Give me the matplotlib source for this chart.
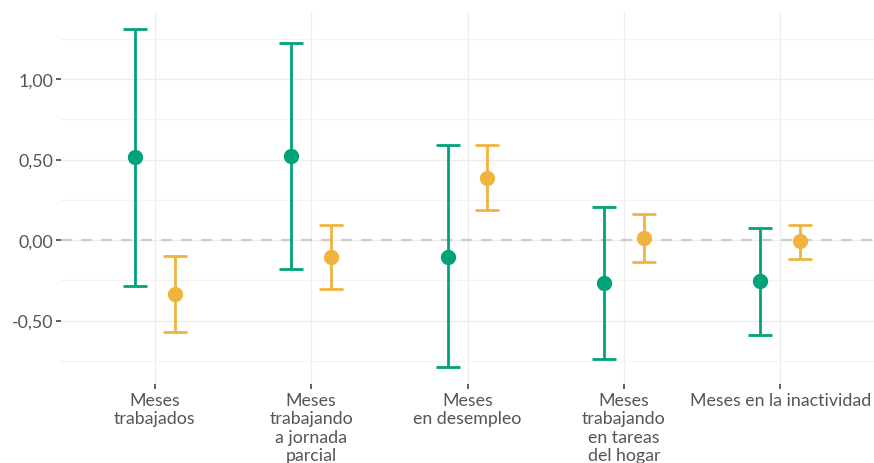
import numpy as np
import matplotlib
matplotlib.use('Agg')
import matplotlib.pyplot as plt
from matplotlib.ticker import FixedLocator, FuncFormatter

categorias = ['Meses\ntrabajados', 'Meses\ntrabajando\na jornada\nparcial',
              'Meses\nen desempleo', 'Meses\ntrabajando\nen tareas\ndel hogar',
              'Meses en la inactividad']

# serie verde
verde_est = [0.516, 0.52, -0.106, -0.267, -0.255]
verde_sup = [1.31, 1.224, 0.59, 0.205, 0.075]
verde_inf = [-0.286, -0.18, -0.789, -0.739, -0.59]

# serie naranja
naranja_est = [-0.335, -0.106, 0.385, 0.012, -0.006]
naranja_sup = [-0.10, 0.093, 0.59, 0.16, 0.093]
naranja_inf = [-0.571, -0.304, 0.186, -0.137, -0.118]

plt.rcParams['font.family'] = ['Lato', 'DejaVu Sans']

fig = plt.figure(figsize=(8.74, 4.64), dpi=100)
ax = fig.add_axes([61/874, 1-385/464, 1-61/874, (385-13)/464])

x = np.arange(1, len(categorias)+1)
dodge = 0.127

series = [(verde_est, verde_inf, verde_sup, '#00a27a', -dodge),
          (naranja_est, naranja_inf, naranja_sup, '#f0b43e', dodge)]
for est, inf, sup, col, off in series:
    est = np.array(est); inf = np.array(inf); sup = np.array(sup)
    ax.errorbar(x + off, est, yerr=[est - inf, sup - est], fmt='o', color=col,
                ecolor=col, elinewidth=2.0, capsize=8.5, capthick=2.0,
                markersize=10, zorder=3)

ax.axhline(0, color='#cccccc', lw=1.6, ls=(0, (5, 4)), zorder=1)

ax.set_xlim(0.4, 5.6)
ax.set_ylim(-0.894, 1.416)
ax.set_xticks(x)
ax.set_xticklabels(categorias)
ax.yaxis.set_major_locator(FixedLocator([-0.5, 0, 0.5, 1.0]))
ax.yaxis.set_minor_locator(FixedLocator([-0.75, -0.25, 0.25, 0.75, 1.25]))
ax.yaxis.set_major_formatter(FuncFormatter(lambda v, p: f'{v:.2f}'.replace('.', ',')))

ax.grid(True, which='major', color='#ededed', lw=0.9, zorder=0)
ax.grid(True, which='minor', axis='y', color='#f3f3f3', lw=0.9, zorder=0)
ax.set_axisbelow(True)
for s in ax.spines.values():
    s.set_visible(False)

ax.tick_params(axis='both', which='major', length=3.5, width=1.1, color='#333333',
               labelsize=12.8, labelcolor='#555555')
ax.tick_params(axis='y', which='minor', length=0)
ax.tick_params(axis='x', pad=2)
ax.tick_params(axis='y', pad=2)
for lab in ax.get_xticklabels():
    lab.set_linespacing(1.2)

fig.savefig('out.png', dpi=100)
